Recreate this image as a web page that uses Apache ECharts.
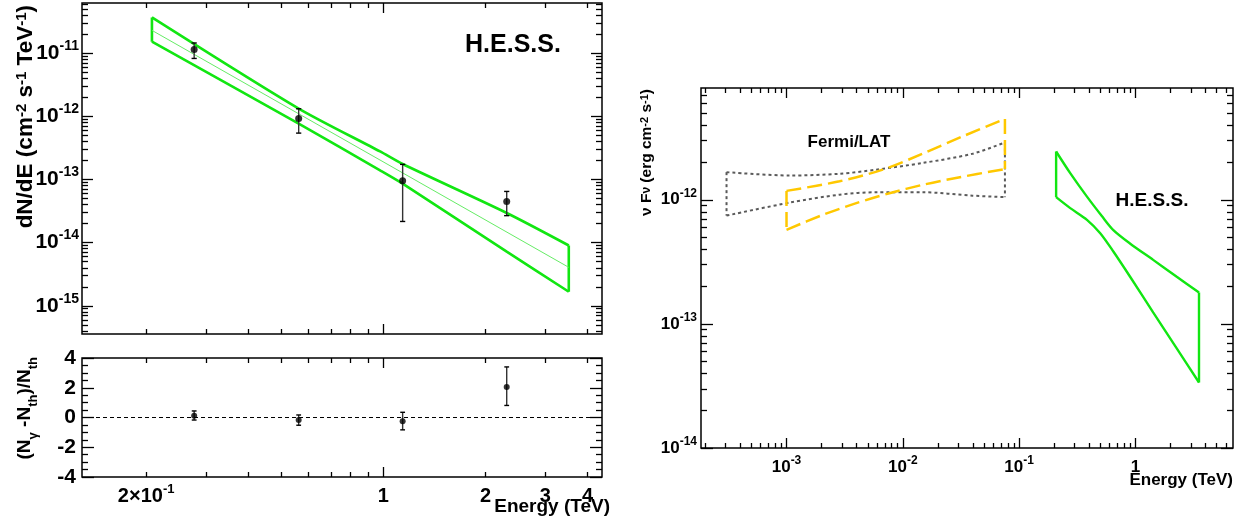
<!DOCTYPE html>
<html><head><meta charset="utf-8">
<script src="https://cdn.jsdelivr.net/npm/echarts@6/dist/echarts.min.js"></script>
<style>html,body{margin:0;padding:0;background:#fff}#c{width:1241px;height:527px}</style>
</head><body><div id="c"></div>
<script>
const FONT = "'Liberation Sans', Arial, Helvetica, sans-serif";

// ---------- Left: H.E.S.S. differential spectrum ----------
const specE      = [0.277, 0.563, 1.14, 2.31];
const specFlux   = [1.14e-11, 9.2e-13, 9.5e-14, 4.49e-14];
const specFluxLo = [8.2e-12, 5.4e-13, 2.16e-14, 2.67e-14];
const specFluxHi = [1.44e-11, 1.31e-12, 1.73e-13, 6.45e-14];
const bandE      = [0.208, 0.563, 0.978, 1.14, 2.31, 3.52];
const bandUpper  = [3.66e-11, 1.32e-12, 2.77e-13, 1.75e-13, 2.94e-14, 9.0e-15];
const bandLower  = [1.51e-11, 7.6e-13, 1.39e-13, 8.55e-14, 7.2e-15, 1.67e-15];
const fitE       = [0.208, 3.52];
const fitFlux    = [2.28e-11, 4.06e-15];

// residuals
const resid   = [0.11, -0.17, -0.26, 2.05];
const residLo = [-0.17, -0.52, -0.83, 0.81];
const residHi = [0.44, 0.17, 0.35, 3.40];

// ---------- Right: SED ----------
const fermiE      = [3.05e-4, 1.07e-3, 2.86e-3, 5.9e-3, 1.48e-2, 3.97e-2, 7.55e-2];
const fermiUpper  = [1.67e-12, 1.57e-12, 1.62e-12, 1.75e-12, 1.98e-12, 2.35e-12, 2.90e-12];
const fermiLower  = [7.46e-13, 9.5e-13, 1.10e-12, 1.15e-12, 1.15e-12, 1.08e-12, 1.05e-12];
const latUpperE   = [1.0e-3, 2.86e-3, 6.73e-3, 1.48e-2, 3.26e-2, 7.55e-2];
const latUpper    = [1.18e-12, 1.41e-12, 1.75e-12, 2.35e-12, 3.24e-12, 4.48e-12];
const latLowerE   = [1.0e-3, 2.06e-3, 3.98e-3, 7.67e-3, 1.48e-2, 2.86e-2, 7.55e-2];
const latLower    = [5.73e-13, 7.57e-13, 9.4e-13, 1.13e-12, 1.32e-12, 1.50e-12, 1.77e-12];
const hessUpperE  = [0.208, 0.275, 0.383, 0.514, 0.646, 0.897, 1.42, 2.25, 3.52];
const hessUpper   = [2.45e-12, 1.64e-12, 1.06e-12, 7.4e-13, 5.7e-13, 4.45e-13, 3.28e-13, 2.41e-13, 1.79e-13];
const hessLowerE  = [0.208, 0.275, 0.383, 0.498, 0.646, 0.897, 1.42, 2.25, 3.52];
const hessLower   = [1.05e-12, 8.57e-13, 6.9e-13, 5.38e-13, 3.83e-13, 2.41e-13, 1.24e-13, 6.41e-14, 3.37e-14];

// ---------- ticks / labels ----------
function minors(n0, n1) { const r = []; for (let n = n0; n <= n1; n++) for (let k = 2; k <= 9; k++) r.push(k * Math.pow(10, n)); return r; }
const leftXRange   = [0.1294, 4.41];
const leftYRange   = [3.58e-16, 6.18e-11];
const residYRange  = [-4, 4];
const rightXRange  = [1.84e-4, 6.9];
const rightYRange  = [1e-14, 7.96e-12];
const leftXMajor   = [1];
const leftXMinor   = [0.2, 0.3, 0.4, 0.5, 0.6, 0.7, 0.8, 0.9, 2, 3, 4];
const leftXLabels  = [0.2, 1, 2, 3, 4];
const leftYMajor   = [1e-15, 1e-14, 1e-13, 1e-12, 1e-11];
const leftYMinor   = minors(-16, -11);
const residYMajor  = [-4, -2, 0, 2, 4];
const residYMinor  = [-3.5, -3, -2.5, -1.5, -1, -0.5, 0.5, 1, 1.5, 2.5, 3, 3.5];
const rightXMajor  = [1e-3, 1e-2, 1e-1, 1];
const rightXMinor  = minors(-4, 0);
const rightYMajor  = [1e-14, 1e-13, 1e-12];
const rightYMinor  = minors(-14, -12);

function richSet(fs, sfs, lh) {
  return {
    b: {fontSize: fs, fontWeight: 'bold', fontFamily: FONT, color: '#000', lineHeight: lh},
    s: {fontSize: sfs, fontWeight: 'bold', fontFamily: FONT, color: '#000', verticalAlign: 'top', lineHeight: sfs}
  };
}
function powFmt(v) {
  const e = Math.round(Math.log10(v));
  return e === 0 ? '{b|1}' : '{b|10}{s|' + e + '}';
}
function energyFmt(v) {
  if (v < 1) { const e = Math.floor(Math.log10(v) + 1e-9); const m = Math.round(v / Math.pow(10, e)); return '{b|' + m + '×10}{s|' + e + '}'; }
  return '{b|' + v + '}';
}
function plainFmt(v) { return '{b|' + v + '}'; }

function axis(grid, o) {
  const a = {
    gridIndex: grid, type: o.type || 'log', min: o.range[0], max: o.range[1], position: o.pos,
    axisLine: {show: false, onZero: false},
    splitLine: {show: false}, splitArea: {show: false},
    minorTick: {show: false}, minorSplitLine: {show: false},
    axisTick: {show: true, inside: true, length: o.len, customValues: o.ticks, lineStyle: {color: '#000', width: 1.3}},
    axisLabel: o.labels ? {show: true, customValues: o.labels, formatter: o.fmt, margin: o.margin, rich: o.rich} : {show: false},
    axisPointer: {show: false}, silent: true
  };
  if (a.type === 'log') a.logBase = 10;
  return a;
}

const xAxes = [], yAxes = [];
function frameAxes(grid, xr, yr, xt, yt, xtype, ytype, xl, yl) {
  xAxes.push(axis(grid, Object.assign({type: xtype, range: xr, pos: 'bottom', len: xt.majLen, ticks: xt.major}, xl || {})));
  xAxes.push(axis(grid, {type: xtype, range: xr, pos: 'bottom', len: xt.minLen, ticks: xt.minor}));
  xAxes.push(axis(grid, {type: xtype, range: xr, pos: 'top', len: xt.majLen, ticks: xt.major}));
  xAxes.push(axis(grid, {type: xtype, range: xr, pos: 'top', len: xt.minLen, ticks: xt.minor}));
  yAxes.push(axis(grid, Object.assign({type: ytype, range: yr, pos: 'left', len: yt.majLen, ticks: yt.major}, yl || {})));
  yAxes.push(axis(grid, {type: ytype, range: yr, pos: 'left', len: yt.minLen, ticks: yt.minor}));
  yAxes.push(axis(grid, {type: ytype, range: yr, pos: 'right', len: yt.majLen, ticks: yt.major}));
  yAxes.push(axis(grid, {type: ytype, range: yr, pos: 'right', len: yt.minLen, ticks: yt.minor}));
}
frameAxes(0, leftXRange, leftYRange,
  {major: leftXMajor, minor: leftXMinor, majLen: 10, minLen: 5},
  {major: leftYMajor, minor: leftYMinor, majLen: 11, minLen: 6}, 'log', 'log',
  null,
  {labels: leftYMajor, fmt: powFmt, margin: 3, rich: richSet(21, 14, 28)});
frameAxes(1, leftXRange, residYRange,
  {major: leftXMajor, minor: leftXMinor, majLen: 10, minLen: 5},
  {major: residYMajor, minor: residYMinor, majLen: 12, minLen: 6}, 'log', 'value',
  {labels: leftXLabels, fmt: energyFmt, margin: 6, rich: richSet(20, 13, 26)},
  {labels: residYMajor, fmt: plainFmt, margin: 6, rich: richSet(21, 13, 24)});
frameAxes(2, rightXRange, rightYRange,
  {major: rightXMajor, minor: rightXMinor, majLen: 10, minLen: 5},
  {major: rightYMajor, minor: rightYMinor, majLen: 12, minLen: 6}, 'log', 'log',
  {labels: rightXMajor, fmt: powFmt, margin: 7, rich: richSet(17, 12, 24)},
  {labels: rightYMajor, fmt: powFmt, margin: 4, rich: richSet(17, 12, 24)});

function pairs(xs, ys) { return xs.map((x, i) => [x, ys[i]]); }
function errRender(cap, col) {
  return function (params, api) {
    const x = api.value(0);
    const a = api.coord([x, api.value(1)]), b = api.coord([x, api.value(2)]);
    return {type: 'group', children: [
      {type: 'line', shape: {x1: a[0], y1: a[1], x2: b[0], y2: b[1]}, style: {stroke: col, lineWidth: 1.4}},
      {type: 'line', shape: {x1: a[0] - cap, y1: a[1], x2: a[0] + cap, y2: a[1]}, style: {stroke: '#000', lineWidth: 1.4}},
      {type: 'line', shape: {x1: b[0] - cap, y1: b[1], x2: b[0] + cap, y2: b[1]}, style: {stroke: '#000', lineWidth: 1.4}}
    ]};
  };
}
function lineSeries(xi, yi, data, style, smooth) {
  return {type: 'line', xAxisIndex: xi, yAxisIndex: yi, data: data, symbol: 'none', showSymbol: false,
          smooth: smooth || false, lineStyle: style, silent: true, clip: true, z: 3};
}
function band(xi, yi, eu, up, el, lo, style, smooth) {
  const nu = eu.length - 1, nl = el.length - 1;
  return [
    lineSeries(xi, yi, pairs(eu, up), style, smooth),
    lineSeries(xi, yi, pairs(el, lo), style, smooth),
    lineSeries(xi, yi, [[eu[0], up[0]], [el[0], lo[0]]], style),
    lineSeries(xi, yi, [[eu[nu], up[nu]], [el[nl], lo[nl]]], style)
  ];
}

const GREEN = '#12e612';
const series = [].concat(
  band(0, 0, bandE, bandUpper, bandE, bandLower, {color: GREEN, width: 2.6}, 0.25),
  [lineSeries(0, 0, pairs(fitE, fitFlux), {color: '#66ec66', width: 1})],
  [
    {type: 'custom', xAxisIndex: 0, yAxisIndex: 0, renderItem: errRender(2.6, '#333'),
     data: specE.map((e, i) => [e, specFluxLo[i], specFluxHi[i]]), encode: {x: 0, y: [1, 2]}, z: 4, silent: true},
    {type: 'scatter', xAxisIndex: 0, yAxisIndex: 0, data: pairs(specE, specFlux), symbol: 'circle', symbolSize: 7,
     itemStyle: {color: '#000'}, z: 5, silent: true},
    {type: 'custom', xAxisIndex: 4, yAxisIndex: 4, renderItem: errRender(2.4, '#333'),
     data: specE.map((e, i) => [e, residLo[i], residHi[i]]), encode: {x: 0, y: [1, 2]}, z: 4, silent: true},
    {type: 'scatter', xAxisIndex: 4, yAxisIndex: 4, data: pairs(specE, resid), symbol: 'circle', symbolSize: 6,
     itemStyle: {color: '#000'}, z: 5, silent: true,
     markLine: {silent: true, symbol: 'none', label: {show: false}, animation: false,
       lineStyle: {color: '#000', type: [4, 3], width: 1.2}, data: [{yAxis: 0}]}}
  ],
  band(8, 8, fermiE, fermiUpper, fermiE, fermiLower, {color: '#5a5a5a', width: 2, type: [3, 3]}, 0.3),
  band(8, 8, latUpperE, latUpper, latLowerE, latLower, {color: '#ffc800', width: 2.5, type: [15, 6]}, 0.3),
  band(8, 8, hessUpperE, hessUpper, hessLowerE, hessLower, {color: GREEN, width: 2.4}, 0.3)
);

const T = (x, y, text, size, extra) => ({type: 'text', x: x, y: y, silent: true, z: 100,
  style: Object.assign({text: text, fontSize: size, fontWeight: 'bold', fontFamily: FONT, fill: '#000',
    align: 'center', verticalAlign: 'middle'}, extra || {})});

const graphics = [
  T(513, 45, 'H.E.S.S.', 25),
  T(1152, 201, 'H.E.S.S.', 19),
  T(849, 142, 'Fermi/LAT', 17),
  T(610, 507, 'Energy (TeV)', 19, {align: 'right'}),
  T(1233, 480, 'Energy (TeV)', 17, {align: 'right'}),
  Object.assign(T(26, 5, 'dN/dE (cm{s|-2} s{s|-1} TeV{s|-1})', 22.5, {align: 'right',
    rich: {s: {fontSize: 15, fontWeight: 'bold', fontFamily: FONT, verticalAlign: 'top', lineHeight: 15}}}),
    {rotation: Math.PI / 2}),
  Object.assign(T(25, 357, '(N{sub|γ} -N{sub|th})/N{sub|th}', 19, {align: 'right', lineHeight: 30,
    rich: {sub: {fontSize: 13, fontWeight: 'bold', fontFamily: FONT, verticalAlign: 'bottom', lineHeight: 13}}}),
    {rotation: Math.PI / 2}),
  Object.assign(T(647, 89, 'ν F{sm|ν} (erg cm{s|-2} s{s|-1})', 15.5, {align: 'right',
    rich: {s: {fontSize: 11, fontWeight: 'bold', fontFamily: FONT, verticalAlign: 'top', lineHeight: 11},
           sm: {fontSize: 12, fontWeight: 'bold', fontFamily: FONT}}}),
    {rotation: Math.PI / 2})
];

const chart = echarts.init(document.getElementById('c'), null, {renderer: 'canvas'});
chart.setOption({
  animation: false,
  backgroundColor: '#fff',
  textStyle: {fontFamily: FONT},
  grid: [
    {left: 82, top: 3, width: 520, height: 331, show: true, borderColor: '#000', borderWidth: 1.5, backgroundColor: 'transparent', containLabel: false, outerBoundsMode: 'none'},
    {left: 82, top: 358, width: 520, height: 119, show: true, borderColor: '#000', borderWidth: 1.5, backgroundColor: 'transparent', containLabel: false, outerBoundsMode: 'none'},
    {left: 701, top: 88, width: 532, height: 360, show: true, borderColor: '#000', borderWidth: 1.5, backgroundColor: 'transparent', containLabel: false, outerBoundsMode: 'none'}
  ],
  xAxis: xAxes,
  yAxis: yAxes,
  series: series,
  graphic: {elements: graphics}
});
</script></body></html>
